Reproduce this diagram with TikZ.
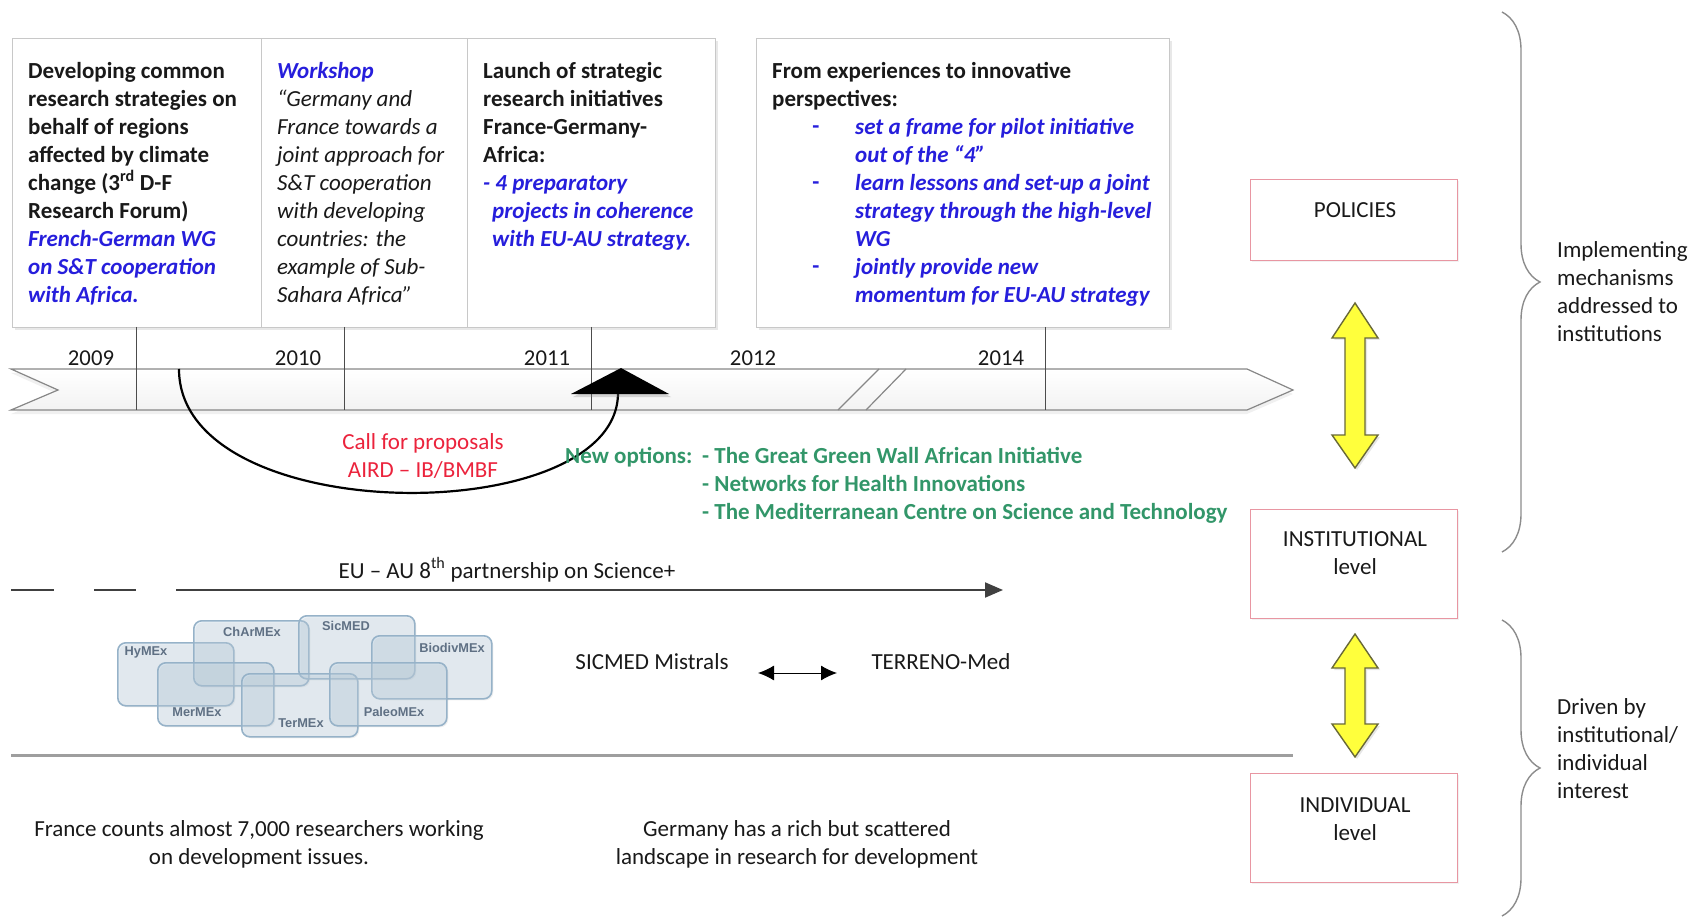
\documentclass[tikz,border=0pt]{standalone}
\usepackage{fontspec}
\setmainfont{Carlito}
\newfontfamily\labfont{Liberation Sans}
\usetikzlibrary{shadows,decorations.pathreplacing,arrows.meta}
\definecolor{tblue}{RGB}{38,30,220}
\definecolor{tred}{RGB}{235,35,60}
\definecolor{tgreen}{RGB}{50,150,105}
\definecolor{boxline}{RGB}{200,200,200}
\definecolor{bandline}{RGB}{135,135,135}
\definecolor{pinkline}{RGB}{232,150,162}
\definecolor{yel}{RGB}{255,255,60}
\definecolor{yelline}{RGB}{105,105,55}
\definecolor{clfill}{RGB}{195,218,235}
\definecolor{clline}{RGB}{150,178,200}
\definecolor{cltext}{RGB}{95,112,132}
\definecolor{txt}{RGB}{25,25,25}
\definecolor{bracegray}{RGB}{140,140,140}
\newcommand{\fl}{\rule{0pt}{20pt}}
\newcommand{\bli}[1]{\textcolor{tblue}{\bfseries\itshape #1}}
\begin{document}
\begin{tikzpicture}[x=1pt,y=-1pt,
  tbox/.style={draw=boxline, line width=1.2pt, fill=white, anchor=north west, inner sep=0pt, minimum height=289pt,
    drop shadow={shadow xshift=2pt, shadow yshift=-2pt, opacity=0.18}},
  btext/.style={anchor=north west, inner sep=0pt, align=left, text=txt, font=\fontsize{23}{28}\selectfont},
  yearlab/.style={anchor=base, inner sep=0pt, text=txt, font=\fontsize{22.7}{26}\selectfont},
  tickline/.style={draw=black!70, line width=0.8pt},
  plain/.style={inner sep=0pt, text=txt, font=\fontsize{23}{28}\selectfont},
  greentext/.style={inner sep=0pt, text=tgreen, font=\fontsize{23}{28}\selectfont\bfseries},
  clbox/.style={draw=clline, line width=1.6pt, fill=clfill, fill opacity=0.32, rounded corners=8pt, anchor=north west, inner sep=0pt,
    drop shadow={shadow xshift=1.5pt, shadow yshift=-1.5pt, opacity=0.12}},
  cllab/.style={inner sep=0pt, text=cltext, font=\labfont\fontsize{12.8}{14}\selectfont\bfseries},
  lvlbox/.style={draw=pinkline, line width=1.4pt, fill=white, anchor=north west, inner sep=0pt, minimum width=207pt,
    drop shadow={shadow xshift=1.5pt, shadow yshift=-1.5pt, opacity=0.10}},
  yarrow/.style={fill=yel, draw=yelline, line width=1.4pt, line join=miter,
    drop shadow={shadow xshift=2pt, shadow yshift=-2pt, opacity=0.2}},
  bracestyle/.style={draw=bracegray, line width=1.4pt, decorate, decoration={brace, amplitude=38pt}}
]
\useasboundingbox (0,0) rectangle (1690,917);

% ---- top boxes
\node[tbox, minimum width=249pt] (b1) at (12,38) {};
\node[tbox, minimum width=206pt] (b2) at (261,38) {};
\node[tbox, minimum width=248pt] (b3) at (467,38) {};
\node[tbox, minimum width=413pt] (b4) at (756,38) {};

\node[btext, font=\fontsize{23}{28}\selectfont\bfseries] (t1) at (28,58)
 {\fl Developing common\\research strategies on\\behalf of regions\\affected by climate\\change (3\textsuperscript{rd} D-F\\Research Forum)\\\bli{French-German WG}\\\bli{on S\&T cooperation}\\\bli{with Africa.}};
\node[btext, font=\fontsize{23}{28}\selectfont\itshape] (t2) at (277,58)
 {\fl\bli{Workshop}\\“Germany and\\France towards a\\joint approach for\\S\&T cooperation\\with developing\\countries: the\\example of Sub-\\Sahara Africa”};
\node[btext, font=\fontsize{23}{28}\selectfont\bfseries] (t3) at (483,58)
 {\fl Launch of strategic\\research initiatives\\France-Germany-\\Africa:\\\bli{- 4 preparatory}\\\bli{\hspace{9pt}projects in coherence}\\\bli{\hspace{9pt}with EU-AU strategy.}};
\node[btext, font=\fontsize{23}{28}\selectfont\bfseries] (t4) at (772,58)
 {\fl From experiences to innovative\\perspectives:};
\node[btext, font=\fontsize{23}{28}\selectfont] (t4b) at (855,114)
 {\fl\bli{set a frame for pilot initiative}\\\bli{out of the “4”}\\\bli{learn lessons and set-up a joint}\\\bli{strategy through the high-level}\\\bli{WG}\\\bli{jointly provide new}\\\bli{momentum for EU-AU strategy}};
\node[anchor=base, inner sep=0pt, text=tblue, font=\fontsize{23}{28}\selectfont\bfseries] (d1) at (816,134) {-};
\node[anchor=base, inner sep=0pt, text=tblue, font=\fontsize{23}{28}\selectfont\bfseries] (d2) at (816,190) {-};
\node[anchor=base, inner sep=0pt, text=tblue, font=\fontsize{23}{28}\selectfont\bfseries] (d3) at (816,274) {-};

% ---- timeline band
\path[draw=bandline, line width=1.2pt, top color=white, bottom color=black!5, line join=miter,
  drop shadow={shadow xshift=0pt, shadow yshift=-4pt, opacity=0.12}]
  (11,369) -- (1247,369) -- (1293,390) -- (1247,410) -- (11,410) -- (58,390) -- cycle;
\coordinate (k1t) at (136,327); \coordinate (k1b) at (136,410);
\coordinate (k2t) at (344,327); \coordinate (k2b) at (344,410);
\coordinate (k3t) at (591,327); \coordinate (k3b) at (591,410);
\coordinate (k4t) at (1045,327); \coordinate (k4b) at (1045,410);
\draw[tickline] (k1t) -- (k1b);
\draw[tickline] (k2t) -- (k2b);
\draw[tickline] (k3t) -- (k3b);
\draw[tickline] (k4t) -- (k4b);
\coordinate (s1a) at (838,410); \coordinate (s1b) at (879,369);
\coordinate (s2a) at (866,410); \coordinate (s2b) at (906,369);
\draw[draw=bandline, line width=1.2pt] (s1a) -- (s1b);
\draw[draw=bandline, line width=1.2pt] (s2a) -- (s2b);

\node[yearlab] (y09) at (91,366) {2009};
\node[yearlab] (y10) at (298,366) {2010};
\node[yearlab] (y11) at (547,366) {2011};
\node[yearlab] (y12) at (753,366) {2012};
\node[yearlab] (y14) at (1001,366) {2014};

% ---- call for proposals arc
\coordinate (cs) at (179,369);
\coordinate (ce) at (618,393);
\draw[black, line width=2.2pt] (cs) .. controls (179,530) and (618,530) .. (ce);
\path[fill=black, drop shadow={shadow xshift=2pt, shadow yshift=-3pt, opacity=0.3}]
  (621,368) -- (669,394) -- (571,394) -- cycle;

\node[anchor=north, inner sep=0pt, align=center, text=tred, font=\fontsize{23}{28}\selectfont] (cfp) at (423,429)
 {\fl Call for proposals\\AIRD -- IB/BMBF};

\node[greentext, anchor=base west] (newopt) at (565,463) {New options:};
\node[greentext, anchor=north west, align=left] (opts) at (702,443)
 {\fl - The Great Green Wall African Initiative\\- Networks for Health Innovations\\- The Mediterranean Centre on Science and Technology};

% ---- EU-AU partnership line
\coordinate (e1a) at (11,590); \coordinate (e1b) at (54,590);
\coordinate (e2a) at (94,590); \coordinate (e2b) at (136,590);
\coordinate (e3a) at (176,590); \coordinate (e3b) at (1003,590);
\draw[black!75, line width=2pt] (e1a) -- (e1b);
\draw[black!75, line width=2pt] (e2a) -- (e2b);
\draw[black!75, line width=2pt, -{Triangle[length=18pt,width=15pt]}] (e3a) -- (e3b);
\node[plain, anchor=base] (euau) at (507,578) {EU -- AU 8\textsuperscript{th} partnership on Science+};

% ---- cluster
\node[clbox, minimum width=116pt, minimum height=63pt] (hy) at (117,642) {};
\node[clbox, minimum width=115pt, minimum height=65pt] (ch) at (193,620) {};
\node[clbox, minimum width=116pt, minimum height=63pt] (si) at (298,615) {};
\node[clbox, minimum width=120pt, minimum height=63pt] (bi) at (371,635) {};
\node[clbox, minimum width=116pt, minimum height=63pt] (me) at (157,662) {};
\node[clbox, minimum width=116pt, minimum height=63pt] (te) at (241,673) {};
\node[clbox, minimum width=117pt, minimum height=63pt] (pa) at (329,662) {};
\node[cllab] (hyl) at (146,652) {HyMEx};
\node[cllab] (chl) at (252,632) {ChArMEx};
\node[cllab] (sil) at (346,626) {SicMED};
\node[cllab] (bil) at (452,648) {BiodivMEx};
\node[cllab] (mel) at (197,712) {MerMEx};
\node[cllab] (tel) at (301,723) {TerMEx};
\node[cllab] (pal) at (394,712) {PaleoMEx};

% ---- SICMED <-> TERRENO
\node[plain, anchor=base] (sic) at (652,669) {SICMED Mistrals};
\node[plain, anchor=base] (ter) at (941,669) {TERRENO-Med};
\coordinate (da1) at (758,673); \coordinate (da2) at (837,673);
\draw[black, line width=1pt, {Latex[length=16pt,width=15pt]}-{Latex[length=16pt,width=15pt]}] (da1) -- (da2);

% ---- bottom separator
\coordinate (h1) at (11,755); \coordinate (h2) at (1293,755);
\draw[black!38, line width=3pt] (h1) -- (h2);

\node[plain, anchor=north, align=center] (fr) at (259,816) {\fl France counts almost 7,000 researchers working\\on development issues.};
\node[plain, anchor=north, align=center] (de) at (797,816) {\fl Germany has a rich but scattered\\landscape in research for development};

% ---- level boxes
\node[lvlbox, minimum height=81pt] (pol) at (1250,179) {};
\node[lvlbox, minimum height=109pt] (ins) at (1250,509) {};
\node[lvlbox, minimum height=109pt] (ind) at (1250,773) {};
\node[plain, anchor=base] (polt) at (1355,218) {POLICIES};
\node[plain, anchor=north, align=center] (inst) at (1355,526) {\fl INSTITUTIONAL\\level};
\node[plain, anchor=north, align=center] (indt) at (1355,792) {\fl INDIVIDUAL\\level};

% ---- yellow double arrows
\path[yarrow] (1355,303) -- (1378,338) -- (1365,338) -- (1365,435) -- (1378,435) -- (1355,468)
  -- (1332,435) -- (1345,435) -- (1345,338) -- (1332,338) -- cycle;
\path[yarrow] (1355,634) -- (1378,668) -- (1365,668) -- (1365,724) -- (1378,724) -- (1355,757)
  -- (1332,724) -- (1345,724) -- (1345,668) -- (1332,668) -- cycle;

% ---- braces
\coordinate (br1a) at (1502,12); \coordinate (br1b) at (1502,552);
\coordinate (br2a) at (1502,620); \coordinate (br2b) at (1502,916);
\draw[bracestyle] (br1a) -- (br1b);
\draw[bracestyle] (br2a) -- (br2b);
\node[plain, anchor=north west, align=left] (impl) at (1557,237) {\fl Implementing\\mechanisms\\addressed to\\institutions};
\node[plain, anchor=north west, align=left] (drv) at (1557,694) {\fl Driven by\\institutional/\\individual\\interest};
\end{tikzpicture}
\end{document}
